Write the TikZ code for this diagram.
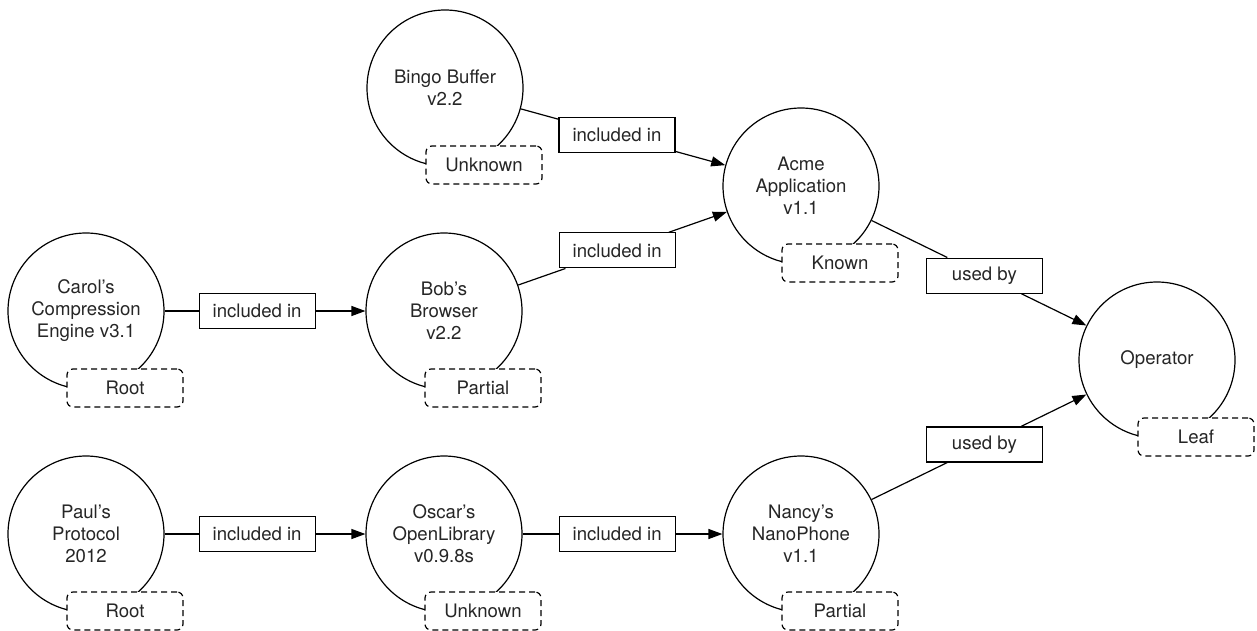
\documentclass[tikz,border=0pt]{standalone}
\usepackage{fontspec}
\setmainfont{TeX Gyre Heros}
\usetikzlibrary{arrows.meta,calc}
\begin{document}
\begin{tikzpicture}[x=1pt,y=-1pt,
  every node/.style={font=\fontsize{18.6}{22}\selectfont, text=black!85},
  comp/.style={circle, draw, line width=1.2pt, minimum size=156pt, inner sep=0pt, align=center},
  status/.style={draw, dashed, dash pattern=on 6pt off 4pt, rounded corners=6pt, fill=white, line width=1.2pt, minimum width=116pt, minimum height=38pt, inner sep=0pt},
  rel/.style={draw, fill=white, line width=1.2pt, minimum width=116pt, minimum height=35pt, inner sep=0pt},
  link/.style={line width=1.2pt},
  arr/.style={line width=1.2pt, -{Triangle[length=14pt,width=10pt]}}
]
\useasboundingbox (0,0) rectangle (1257,630);

% components
\node[comp] (bingo) at (445,88) {Bingo Buffer\\v2.2};
\node[comp] (acme) at (801,186) {Acme\\Application\\v1.1};
\node[comp] (carol) at (86,311) {Carol’s\\Compression\\Engine v3.1};
\node[comp] (bob) at (444,311) {Bob’s\\Browser\\v2.2};
\node[comp] (oper) at (1157,360) {Operator};
\node[comp] (paul) at (86,534) {Paul’s\\Protocol\\2012};
\node[comp] (oscar) at (444,534) {Oscar’s\\OpenLibrary\\v0.9.8s};
\node[comp] (nancy) at (801,534) {Nancy’s\\NanoPhone\\v1.1};

% relation labels
\node[rel] (r1) at ($(bingo)!0.483!(acme)$) {included in};
\node[rel] (r2) at ($(bob)!0.485!(acme)$) {included in};
\node[rel] (r3) at ($(carol)!0.478!(bob)$) {included in};
\node[rel] (r4) at ($(acme)!0.515!(oper)$) {used by};
\node[rel] (r5) at ($(paul)!0.478!(oscar)$) {included in};
\node[rel] (r6) at ($(oscar)!0.485!(nancy)$) {included in};
\node[rel] (r7) at ($(nancy)!0.515!(oper)$) {used by};

% connectors
\draw[link] (bingo) -- (r1); \draw[arr] (r1) -- (acme);
\draw[link] (bob) -- (r2); \draw[arr] (r2) -- (acme);
\draw[link] (carol) -- (r3); \draw[arr] (r3) -- (bob);
\draw[link] (acme) -- (r4); \draw[arr] (r4) -- (oper);
\draw[link] (paul) -- (r5); \draw[arr] (r5) -- (oscar);
\draw[link] (oscar) -- (r6); \draw[arr] (r6) -- (nancy);
\draw[link] (nancy) -- (r7); \draw[arr] (r7) -- (oper);

% status boxes
\node[status] (sbingo) at ($(bingo)+(39,77)$) {Unknown};
\node[status] (sacme) at ($(acme)+(39,77)$) {Known};
\node[status] (scarol) at ($(carol)+(39,77)$) {Root};
\node[status] (sbob) at ($(bob)+(39,77)$) {Partial};
\node[status] (soper) at ($(oper)+(39,77)$) {Leaf};
\node[status] (spaul) at ($(paul)+(39,77)$) {Root};
\node[status] (soscar) at ($(oscar)+(39,77)$) {Unknown};
\node[status] (snancy) at ($(nancy)+(39,77)$) {Partial};
\end{tikzpicture}
\end{document}
